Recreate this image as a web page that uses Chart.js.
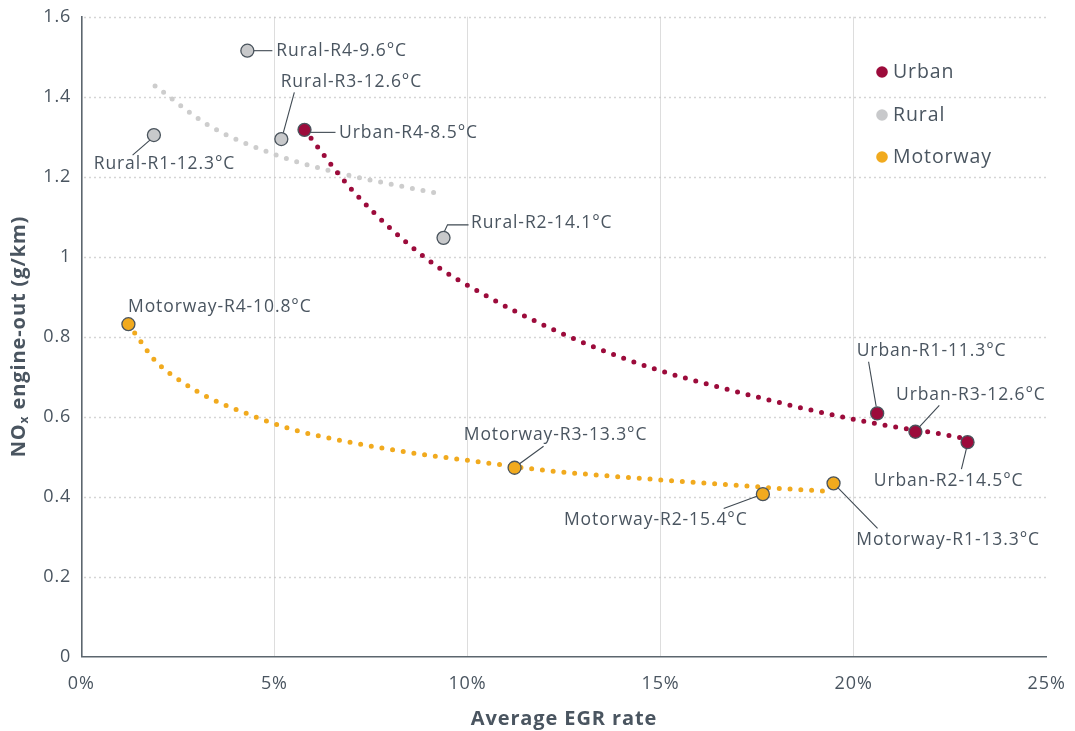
<!DOCTYPE html>
<html>
<head>
<meta charset="utf-8">
<script src="https://cdn.jsdelivr.net/npm/chart.js@4/dist/chart.umd.min.js"></script>
<style>
  html, body { margin: 0; padding: 0; background: #ffffff; }
  #wrap { width: 1075px; height: 731px; position: relative; }
</style>
</head>
<body>
<div id="wrap"><canvas id="c" width="1075" height="731"></canvas></div>
<script>
// ---- Measured points: average EGR rate (%) vs NOx engine-out (g/km) ----
const urbanEGR = [5.78, 20.61, 21.60, 22.95];
const urbanNOx = [1.317, 0.608, 0.562, 0.536];
const urbanNames = ['Urban-R4-8.5°C', 'Urban-R1-11.3°C', 'Urban-R3-12.6°C', 'Urban-R2-14.5°C'];

const ruralEGR = [4.30, 5.18, 1.88, 9.38];
const ruralNOx = [1.515, 1.294, 1.304, 1.047];
const ruralNames = ['Rural-R4-9.6°C', 'Rural-R3-12.6°C', 'Rural-R1-12.3°C', 'Rural-R2-14.1°C'];

const motorwayEGR = [1.22, 11.22, 17.65, 19.48];
const motorwayNOx = [0.831, 0.472, 0.406, 0.433];
const motorwayNames = ['Motorway-R4-10.8°C', 'Motorway-R3-13.3°C', 'Motorway-R2-15.4°C', 'Motorway-R1-13.3°C'];

// ---- Trend curves (dotted) ----
const urbanTrendEGR = [5.78, 7.01, 8.95, 10.60, 12.01, 13.25, 14.88, 16.78, 18.77, 20.54, 22.83, 22.95];
const urbanTrendNOx = [1.317, 1.167, 0.994, 0.896, 0.827, 0.775, 0.718, 0.667, 0.619, 0.583, 0.546, 0.543];

const ruralTrendEGR = [1.91, 3.32, 4.99, 6.86, 8.24, 9.15];
const ruralTrendNOx = [1.427, 1.327, 1.256, 1.205, 1.177, 1.160];

const motorwayTrendEGR = [1.22, 1.42, 1.92, 2.62, 3.33, 4.38, 5.46, 6.90, 8.64, 10.13, 11.22, 11.97, 14.13, 16.56, 18.46, 19.43];
const motorwayTrendNOx = [0.831, 0.804, 0.739, 0.686, 0.646, 0.604, 0.568, 0.537, 0.508, 0.489, 0.475, 0.466, 0.448, 0.431, 0.418, 0.413];

// ---- Axis ticks ----
const xTicks = [0, 5, 10, 15, 20, 25];
const yTicks = [0, 0.2, 0.4, 0.6, 0.8, 1, 1.2, 1.4, 1.6];

const seriesNames = ['Urban', 'Rural', 'Motorway'];

// ---- Styling ----
const FONT = '"Open Sans", "DejaVu Sans", sans-serif';
const TEXT = '#4a5560';
const COLORS = { Urban: '#9c0b3b', Rural: '#c8c9cb', Motorway: '#f1aa1e' };
const RURAL_TREND = '#cdcdcd';
const MARKER_EDGE = '#4a545d';
const LEADER = '#3f4952';

// Label placement relative to each marker (pixels): text left/middle and leader polyline
const urbanLayout = [
  { dx: 34.6, dy: 3, leader: [[6, 2.5], [31, 2.5]] },
  { dx: -20.5, dy: -62.6, leader: [[-8.6, -51.6], [-1, -7]] },
  { dx: -19.4, dy: -37, leader: [[23.9, -26.3], [4, -5]] },
  { dx: -93.8, dy: 38.4, leader: [[-6.1, 27], [-1, 6]] }
];
const ruralLayout = [
  { dx: 29, dy: 0, leader: [[6.5, 0], [25, 0]] },
  { dx: -0.7, dy: -56.6, leader: [[2, -6.5], [13, -46.6]] },
  { dx: -60.2, dy: 29.3, leader: [[-4, 5], [-21.3, 20]] },
  { dx: 27.5, dy: -14.7, leader: [[1, -6.5], [4, -13], [25, -13]] }
];
const motorwayLayout = [
  { dx: -0.4, dy: -17.6, leader: null },
  { dx: -50.8, dy: -32.7, leader: [[5, -4], [29, -21.5]] },
  { dx: -198.9, dy: 26, leader: [[-39.2, 14.3], [-6, 2]] },
  { dx: 22.8, dy: 56.7, leader: [[44, 45], [4, 4]] }
];

const toPoints = (xs, ys) => xs.map((x, i) => ({ x: x, y: ys[i] }));

const labelSets = [
  { x: urbanEGR, y: urbanNOx, names: urbanNames, layout: urbanLayout },
  { x: ruralEGR, y: ruralNOx, names: ruralNames, layout: ruralLayout },
  { x: motorwayEGR, y: motorwayNOx, names: motorwayNames, layout: motorwayLayout }
];

function markerSet(label, xs, ys) {
  return {
    label: label,
    data: toPoints(xs, ys),
    backgroundColor: COLORS[label],
    borderColor: MARKER_EDGE,
    borderWidth: 1.3,
    pointRadius: 6.5,
    pointHoverRadius: 6.5,
    showLine: false,
    order: 0
  };
}

function trendSet(label, xs, ys, color, order) {
  return {
    label: label,
    data: toPoints(xs, ys),
    showLine: true,
    borderColor: color,
    borderWidth: 5,
    borderDash: [0, 10.8],
    borderCapStyle: 'round',
    pointRadius: 0,
    fill: false,
    cubicInterpolationMode: 'monotone',
    order: order
  };
}

// Wider letter spacing for all canvas text
const spacing = {
  id: 'spacing',
  beforeInit(chart) { chart.ctx.letterSpacing = '0.9px'; },
  beforeDraw(chart) { chart.ctx.letterSpacing = '0.9px'; }
};

// Dotted horizontal gridlines
const dottedGrid = {
  id: 'dottedGrid',
  beforeDatasetsDraw(chart) {
    const { ctx, chartArea } = chart;
    const ys = chart.scales.y;
    ctx.save();
    ctx.strokeStyle = '#c3c3c3';
    ctx.lineWidth = 1.3;
    ctx.setLineDash([1.4, 3.6]);
    yTicks.forEach(v => {
      if (v === 0) return;
      const y = Math.round(ys.getPixelForValue(v)) + 0.5;
      ctx.beginPath();
      ctx.moveTo(chartArea.left + 3, y);
      ctx.lineTo(chartArea.right, y);
      ctx.stroke();
    });
    ctx.restore();
  }
};

// Point annotations with leader lines
const pointLabels = {
  id: 'pointLabels',
  afterDatasetsDraw(chart) {
    const ctx = chart.ctx;
    const xs = chart.scales.x, ys = chart.scales.y;
    ctx.save();
    ctx.font = '17.5px ' + FONT;
    ctx.fillStyle = TEXT;
    ctx.textBaseline = 'middle';
    ctx.textAlign = 'left';
    ctx.strokeStyle = LEADER;
    ctx.lineWidth = 1.1;
    labelSets.forEach(set => {
      set.names.forEach((name, i) => {
        const px = xs.getPixelForValue(set.x[i]);
        const py = ys.getPixelForValue(set.y[i]);
        const lay = set.layout[i];
        if (lay.leader) {
          ctx.beginPath();
          lay.leader.forEach(([dx, dy], k) => {
            if (k === 0) ctx.moveTo(px + dx, py + dy); else ctx.lineTo(px + dx, py + dy);
          });
          ctx.stroke();
        }
        ctx.fillText(name, px + lay.dx, py + lay.dy);
      });
    });
    ctx.restore();
  }
};

// Legend and y-axis title with subscript
const extras = {
  id: 'extras',
  afterDraw(chart) {
    const { ctx, chartArea } = chart;
    ctx.save();
    // legend
    const lx = 882, ly = [72, 115, 157];
    ctx.font = '19.5px ' + FONT;
    ctx.textBaseline = 'middle';
    ctx.textAlign = 'left';
    seriesNames.forEach((name, i) => {
      ctx.beginPath();
      ctx.fillStyle = COLORS[name];
      ctx.arc(lx, ly[i], 5.8, 0, Math.PI * 2);
      ctx.fill();
      ctx.fillStyle = TEXT;
      ctx.fillText(name, lx + 11, ly[i] + 0.5);
    });

    // y-axis title: NOx engine-out (g/km)
    const cy = (chartArea.top + chartArea.bottom) / 2;
    ctx.translate(19, cy);
    ctx.rotate(-Math.PI / 2);
    const big = 'bold 20px ' + FONT;
    const small = 'bold 12px ' + FONT;
    const p1 = 'NO', p2 = 'x', p3 = ' engine-out (g/km)';
    ctx.font = big; const w1 = ctx.measureText(p1).width; const w3 = ctx.measureText(p3).width;
    ctx.font = small; const w2 = ctx.measureText(p2).width;
    let x0 = -(w1 + w2 + w3) / 2;
    ctx.fillStyle = TEXT;
    ctx.textBaseline = 'middle';
    ctx.font = big; ctx.fillText(p1, x0, 0); x0 += w1;
    ctx.font = small; ctx.fillText(p2, x0, 6); x0 += w2;
    ctx.font = big; ctx.fillText(p3, x0, 0);
    ctx.restore();
  }
};

new Chart(document.getElementById('c'), {
  type: 'scatter',
  data: {
    datasets: [
      markerSet('Urban', urbanEGR, urbanNOx),
      markerSet('Rural', ruralEGR, ruralNOx),
      markerSet('Motorway', motorwayEGR, motorwayNOx),
      trendSet('Urban trend', urbanTrendEGR, urbanTrendNOx, COLORS.Urban, 1),
      trendSet('Motorway trend', motorwayTrendEGR, motorwayTrendNOx, COLORS.Motorway, 2),
      trendSet('Rural trend', ruralTrendEGR, ruralTrendNOx, RURAL_TREND, 3)
    ]
  },
  options: {
    responsive: false,
    animation: false,
    events: [],
    layout: { padding: { left: 0, right: 28.3, top: 16.7, bottom: 0 } },
    plugins: {
      legend: { display: false },
      tooltip: { enabled: false }
    },
    scales: {
      x: {
        type: 'linear',
        min: 0, max: 25,
        afterBuildTicks(scale) { scale.ticks = xTicks.map(v => ({ value: v })); },
        afterFit(scale) { scale.height = 74.5; scale.paddingLeft = 0; scale.paddingRight = 0; },
        ticks: {
          padding: 17,
          color: TEXT,
          font: { family: FONT, size: 18 },
          callback: v => v + '%'
        },
        grid: {
          drawTicks: false,
          lineWidth: 1,
          color: c => (c.tick && (c.tick.value === 0 || c.tick.value === 25)) ? 'rgba(0,0,0,0)' : '#dddddd'
        },
        border: { display: true, color: '#5c666e', width: 1.6 },
        title: {
          display: true,
          text: 'Average EGR rate',
          color: TEXT,
          font: { family: FONT, size: 20, weight: 'bold' },
          padding: { top: 8, bottom: 0 }
        }
      },
      y: {
        type: 'linear',
        min: 0, max: 1.6,
        afterBuildTicks(scale) { scale.ticks = yTicks.map(v => ({ value: v })); },
        afterFit(scale) { scale.width = 81.3; scale.paddingTop = 0; scale.paddingBottom = 0; },
        ticks: {
          padding: 10,
          color: TEXT,
          font: { family: FONT, size: 18 },
          callback: v => String(Number(v.toFixed(1)))
        },
        grid: { display: false, drawTicks: false },
        border: { display: true, color: '#5c666e', width: 1.6 }
      }
    }
  },
  plugins: [spacing, dottedGrid, pointLabels, extras]
});
</script>
</body>
</html>
